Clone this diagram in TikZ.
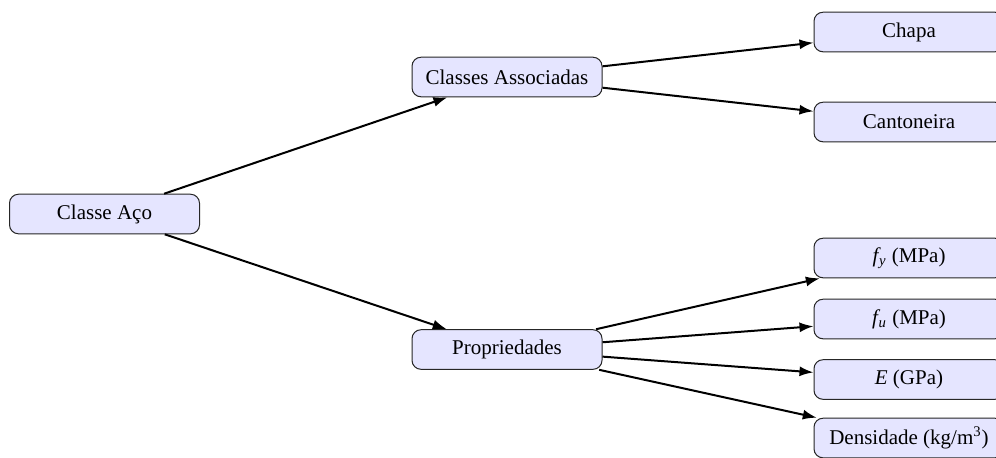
\documentclass[tikz,border=0pt]{standalone}
\usepackage{fontspec}
\setmainfont{Liberation Serif}
\usetikzlibrary{arrows.meta}

\newcommand{\symsub}[2]{\textit{#1}\kern-0.08em\textsubscript{\textit{#2}}}

\begin{document}
\begin{tikzpicture}[
  x=0.5pt, y=-0.5pt,
  box/.style={draw=black!85, line width=0.5pt, fill=blue!10, rounded corners=4.5pt,
    minimum width=95pt, minimum height=19.8pt, inner sep=2pt,
    font=\fontsize{10.5}{12.5}\selectfont},
  link/.style={-{Latex[length=7pt,width=5pt]}, line width=1pt}
]
  \useasboundingbox (0,0) rectangle (996,457);
  \clip (0,0) rectangle (996,457);

  % root and the two branches
  \node[box] (aco)   at (104.5,214) {Classe Aço};
  \node[box] (assoc) at (507,77)    {Classes Associadas};
  \node[box] (prop)  at (507,349.5) {Propriedades};

  % leaves
  \node[box] (chapa) at (909,32)    {Chapa};
  \node[box] (cant)  at (909,122)   {Cantoneira};
  \node[box] (fy)    at (909,258)   {\symsub{f}{y} (MPa)};
  \node[box] (fu)    at (909,319)   {\symsub{f}{u} (MPa)};
  \node[box] (E)     at (909,379.5) {\textit{E} (GPa)};
  \node[box] (dens)  at (909,438)   {Densidade (kg/m\textsuperscript{3})};

  % connectors
  \draw[link] (aco) -- (assoc);
  \draw[link] (aco) -- (prop);
  \draw[link] (assoc) -- (chapa);
  \draw[link] (assoc) -- (cant);
  \draw[link] (prop) -- (fy);
  \draw[link] (prop) -- (fu);
  \draw[link] (prop) -- (E);
  \draw[link] (prop) -- (dens);
\end{tikzpicture}
\end{document}
